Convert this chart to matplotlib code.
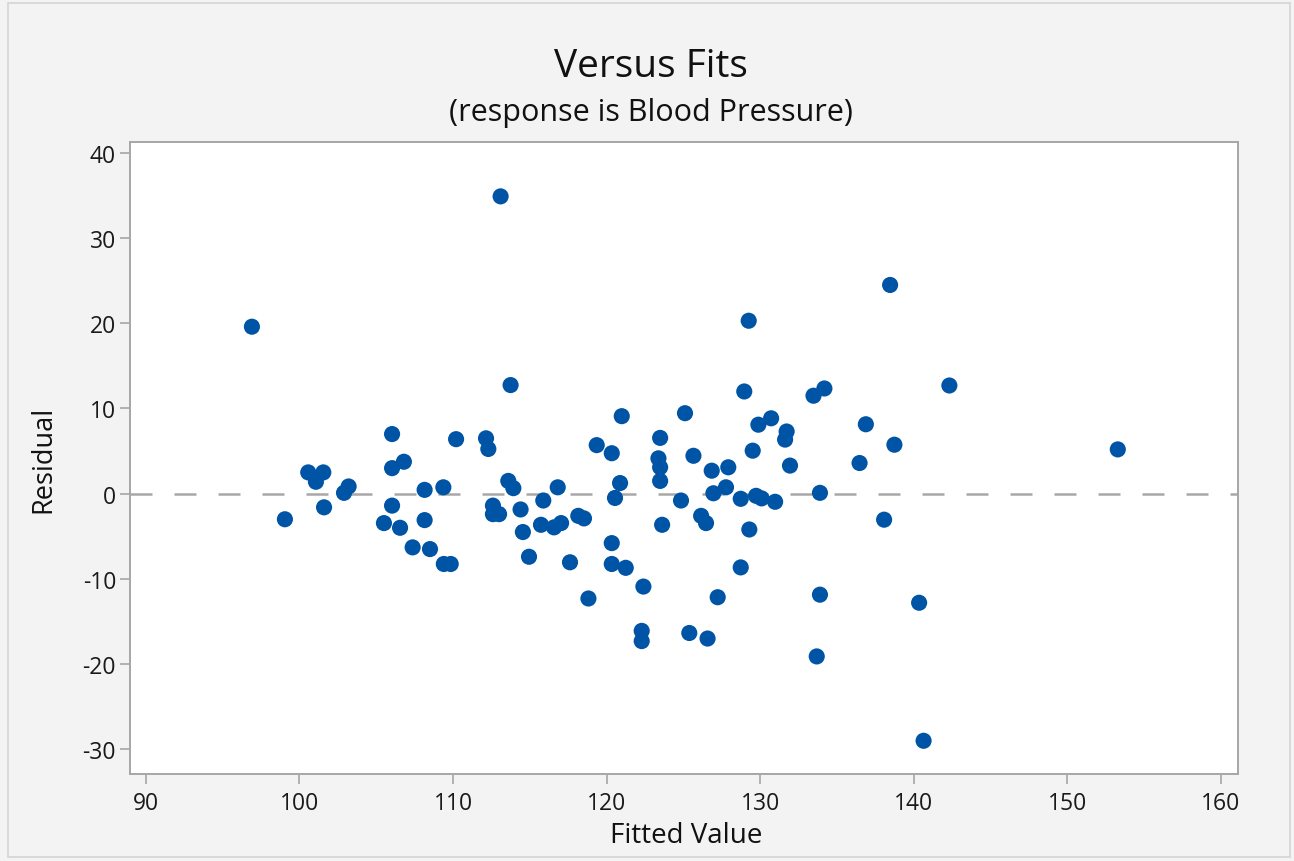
import matplotlib
matplotlib.use('Agg')
import matplotlib.pyplot as plt
from matplotlib.patches import Rectangle

# fitted values and residuals
fitted = [96.9, 99.05, 100.57, 101.55, 101.07, 101.6, 102.9, 103.2, 105.5, 106.03,
          106.03, 106.8, 106.03, 106.55, 107.37, 108.15, 108.15, 108.5, 109.37, 109.4,
          109.85, 110.2, 112.15, 112.3, 113.1, 113.75, 113.6, 113.93, 112.6, 112.6,
          113.0, 114.4, 114.55, 114.95, 115.88, 116.82, 115.73, 116.58, 117.04, 117.62,
          118.16, 118.53, 118.82, 119.36, 120.34, 120.55, 120.88, 120.99, 120.34, 120.34,
          121.25, 122.4, 122.29, 122.29, 123.49, 123.38, 123.49, 123.49, 123.62, 124.85,
          125.11, 125.66, 125.39, 126.16, 126.48, 126.58, 126.85, 127.93, 126.96, 127.78,
          127.24, 128.74, 128.74, 128.97, 129.26, 129.52, 129.3, 129.89, 130.72, 129.74,
          130.1, 130.98, 131.73, 131.63, 131.95, 133.48, 134.19, 133.9, 133.9, 133.69,
          136.48, 136.89, 138.47, 138.08, 138.75, 140.36, 140.65, 142.33, 153.3]
residual = [19.6, -3.0, 2.5, 2.5, 1.4, -1.6, 0.1, 0.85, -3.45, 7.0,
            3.0, 3.75, -1.4, -4.0, -6.3, 0.45, -3.1, -6.5, 0.75, -8.25,
            -8.25, 6.4, 6.5, 5.25, 34.9, 12.75, 1.5, 0.65, -1.4, -2.4,
            -2.4, -1.85, -4.5, -7.4, -0.8, 0.75, -3.65, -3.95, -3.45, -8.05,
            -2.6, -2.9, -12.3, 5.7, 4.75, -0.5, 1.25, 9.1, -5.8, -8.25,
            -8.7, -10.9, -16.1, -17.3, 6.55, 4.15, 3.1, 1.5, -3.65, -0.8,
            9.45, 4.45, -16.35, -2.6, -3.45, -17.0, 2.7, 3.1, 0.05, 0.75,
            -12.15, -0.6, -8.65, 12.0, 20.3, 5.05, -4.2, 8.1, 8.85, -0.25,
            -0.55, -0.95, 7.3, 6.35, 3.3, 11.5, 12.35, 0.1, -11.85, -19.1,
            3.6, 8.15, 24.5, -3.05, 5.75, -12.8, -29.0, 12.7, 5.2]

x_ticks = [90, 100, 110, 120, 130, 140, 150, 160]
y_ticks = [-30, -20, -10, 0, 10, 20, 30, 40]

plt.rcParams['font.family'] = ['Open Sans', 'DejaVu Sans']
plt.rcParams['axes.unicode_minus'] = False

bg = '#f3f3f3'
edge = '#a6a6a6'
txt = '#111111'

fig = plt.figure(figsize=(12.94, 8.62), dpi=100, facecolor=bg)
ax = fig.add_axes([130/1294, 1-775/862, (1238-130)/1294, (775-143)/862])
ax.set_facecolor('white')

# zero reference line
ax.axhline(0, color='#a8a8a8', lw=1.8, dashes=(8.8, 8.8), zorder=1)
ax.scatter(fitted, residual, s=135, color='#0054a6', edgecolors='none', zorder=2)

ax.set_xlim(88.96, 161.13)
ax.set_ylim(-32.9, 41.28)
ax.set_xticks(x_ticks)
ax.set_yticks(y_ticks)
for sp in ax.spines.values():
    sp.set_color(edge)
    sp.set_linewidth(1.4)
ax.tick_params(colors=edge, labelcolor='#1a1a1a', labelsize=16.5, length=7, width=1.2, pad=3)
ax.tick_params(axis='x', pad=5)

fig.text(0.503, 1-67/862, 'Versus Fits', ha='center', va='center', fontsize=28, color=txt)
fig.text(0.503, 1-113/862, '(response is Blood Pressure)', ha='center', va='center', fontsize=22, color=txt)
fig.text(43/1294, 1-459/862, 'Residual', ha='center', va='center', rotation=90, fontsize=19.5, color=txt)
fig.text(686/1294, 1-836/862, 'Fitted Value', ha='center', va='center', fontsize=20, color=txt)

# thin frame round the whole graph
fig.patches.append(Rectangle((8/1294, 4/862), 1282/1294, 854/862, transform=fig.transFigure,
                             fill=False, edgecolor='#d4d4d4', lw=1.2))

fig.savefig('out.png', dpi=100, facecolor=bg)
